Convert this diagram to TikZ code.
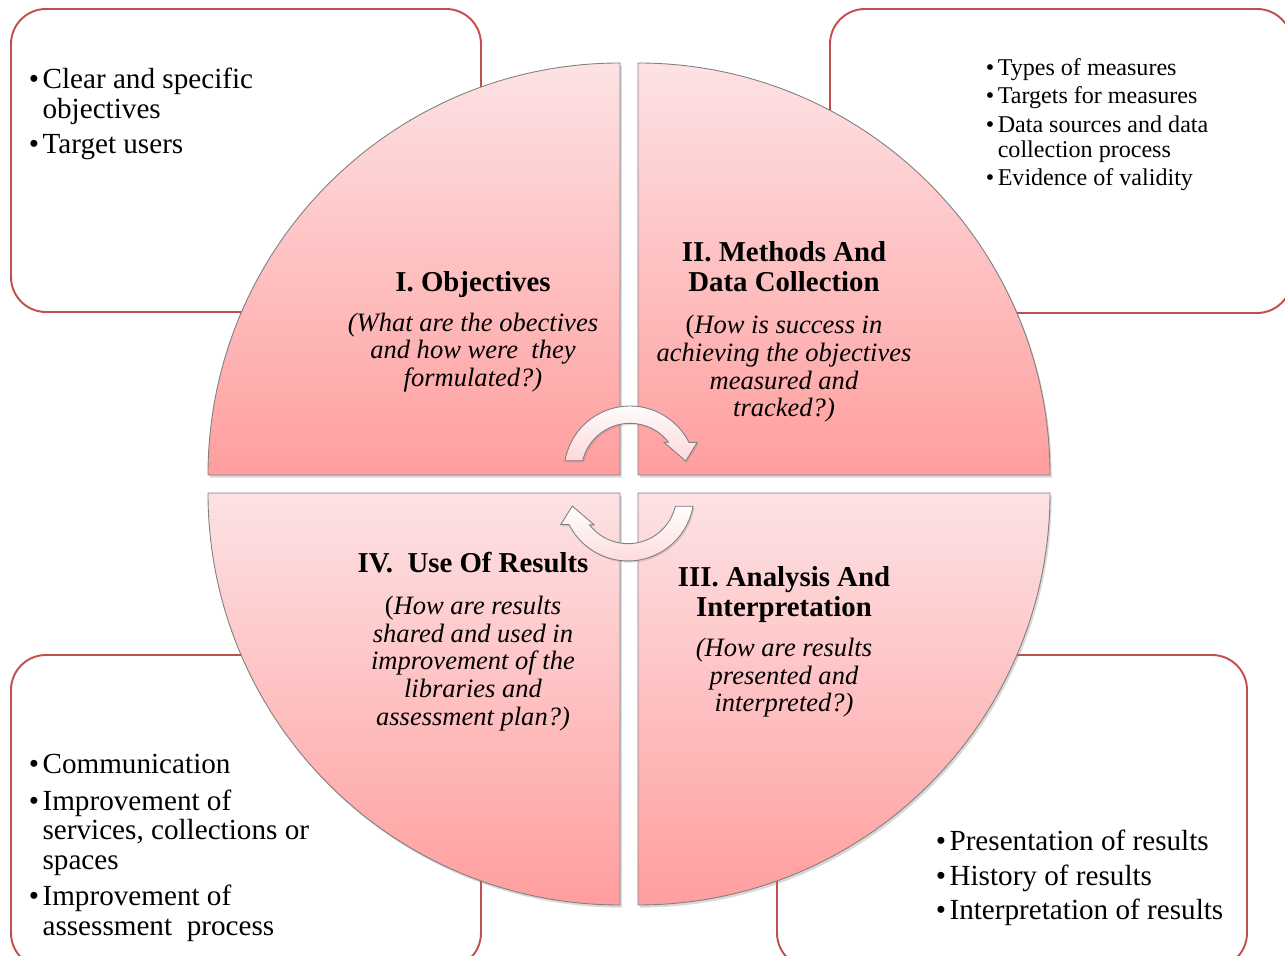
\documentclass[tikz,border=0pt]{standalone}
\usepackage{fontspec}
\setmainfont{Liberation Serif}
\usepackage{xcolor}
\usetikzlibrary{positioning, shadows}
\definecolor{rosaclaro}{HTML}{FDE2E4}
\definecolor{rosaoscuro}{HTML}{FF9E9E}
\definecolor{borde}{HTML}{C0504D}
\definecolor{contorno}{HTML}{7F7F7F}
\newcommand{\punto}{•\hspace{2pt}}
\newcommand{\sangria}{\phantom{•\hspace{2pt}}}

\begin{document}
\begin{tikzpicture}[
    x=0.02cm, y=0.02cm,
    caja/.style={
        draw=borde,
        line width=1.1pt,
        fill=white,
        rounded corners=0.7cm,
    },
    cuadrante/.style={
        draw=contorno,
        line width=0.5pt,
        top color=rosaclaro,
        bottom color=rosaoscuro,
        drop shadow={opacity=0.3, shadow xshift=1pt, shadow yshift=-1.5pt},
    },
    flecha/.style={
        draw=contorno,
        line width=0.5pt,
        top color=white,
        bottom color=rosaclaro!85!rosaoscuro,
        drop shadow={opacity=0.25, shadow xshift=0.8pt, shadow yshift=-1pt},
    },
    titulo/.style={
        align=center,
        inner sep=0pt,
        font=\fontsize{16.4}{17}\selectfont\bfseries,
    },
    pregunta/.style={
        align=center,
        inner sep=0pt,
        font=\fontsize{15.1}{15.7}\selectfont\itshape,
    },
    lista/.style={
        align=left,
        inner sep=0pt,
        anchor=west,
        font=\fontsize{16.6}{16.9}\selectfont,
    },
    listachica/.style={
        lista,
        font=\fontsize{13.7}{14.2}\selectfont,
    },
]

\useasboundingbox (0,0) rectangle (1285,956);
\clip (0,0) rectangle (1285,956);

% cajas de fondo
\path[caja] (11,644) rectangle (481,947);
\path[caja] (830,643) rectangle (1292,947);
\path[caja] (11,-12) rectangle (481,301);
\path[caja] (777,-12) rectangle (1247,301);

% los cuatro cuadrantes
\path[cuadrante] (620,481) -- (620,893) arc[start angle=90, end angle=180, radius=412] -- cycle;
\path[cuadrante] (638,481) -- (1050,481) arc[start angle=0, end angle=90, radius=412] -- cycle;
\path[cuadrante] (620,463) -- (208,463) arc[start angle=180, end angle=270, radius=412] -- cycle;
\path[cuadrante] (638,463) -- (638,51) arc[start angle=270, end angle=360, radius=412] -- cycle;

% flechas del ciclo
\foreach \ang in {0,180}
  \path[flecha, rotate around={\ang:(629,472.5)}]
    (565,495.3) arc[start angle=170.1, end angle=26.7, radius=66]
    -- (697.3,513.7) -- (685.7,495) -- (664,513.7)
    -- (668.6,513.7) arc[start angle=37.6, end angle=166.6, radius=48.7] -- cycle;

% textos de los cuadrantes
\node[titulo]   (obj)  at (473,671) {I. Objectives};
\node[pregunta] (objq) at (473,603.5) {(What are the obectives\\and how were~ they\\formulated?)};

\node[titulo]   (met)  at (784,689) {II. Methods And\\Data Collection};
\node[pregunta] (metq) at (784,587) {{\upshape(}How is success in\\achieving the objectives\\measured and\\tracked?)};

\node[titulo]   (ana)  at (784,361) {III. Analysis And\\Interpretation};
\node[pregunta] (anaq) at (784,278) {(How are results\\presented and\\interpreted?)};

\node[titulo]   (uso)  at (473,393) {IV.\ \ Use Of Results};
\node[pregunta] (usoq) at (473,292.5) {{\upshape(}How are results\\shared and used in\\improvement of the\\libraries and\\assessment plan?)};

% listas
\node[lista] (objlista) at (28.5,842) {\punto Clear and specific\\\sangria objectives\\[3.4pt]\punto Target users};
\node[listachica] (metlista) at (985.5,831.5) {\punto Types of measures\\[2pt]\punto Targets for measures\\[2pt]\punto Data sources and data\\\sangria collection process\\[2pt]\punto Evidence of validity};
\node[lista] (usolista) at (28.5,108) {\punto Communication\\[3.8pt]\punto Improvement of\\\sangria services, collections or\\\sangria spaces\\[3.8pt]\punto Improvement of\\\sangria assessment~ process};
\node[lista] (analista) at (935.5,78) {\punto Presentation of results\\[2.9pt]\punto History of results\\[2.9pt]\punto Interpretation of results};

\end{tikzpicture}
\end{document}
